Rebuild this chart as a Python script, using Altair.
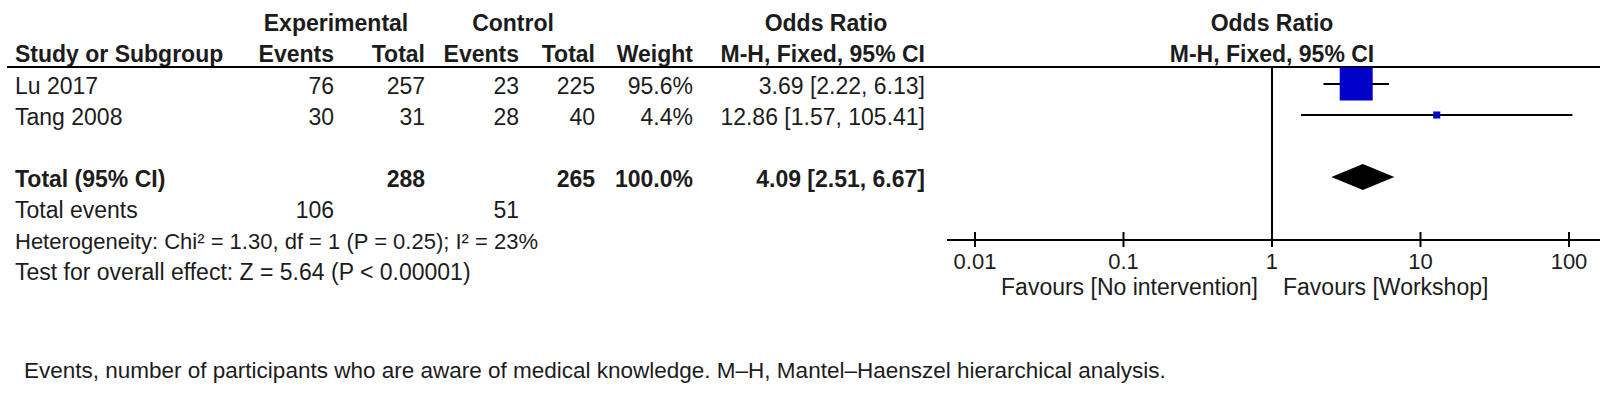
import altair as alt
import pandas as pd

# ---------------- data ----------------
studies = ["Lu 2017", "Tang 2008"]
exp_events = [76, 30]
exp_total = [257, 31]
ctrl_events = [23, 28]
ctrl_total = [225, 40]
weights = [95.6, 4.4]
odds_ratio = [3.69, 12.86]
ci_low = [2.22, 1.57]
ci_high = [6.13, 105.41]

total_label = "Total (95% CI)"
total_exp = 288
total_ctrl = 265
total_weight = 100.0
total_or = 4.09
total_lo = 2.51
total_hi = 6.67
total_events_label = "Total events"
total_exp_events = 106
total_ctrl_events = 51
heterogeneity = "Heterogeneity: Chi\u00b2 = 1.30, df = 1 (P = 0.25); I\u00b2 = 23%"
overall = "Test for overall effect: Z = 5.64 (P < 0.00001)"

group_headers = ["Experimental", "Control", "Odds Ratio"]
column_headers = ["Study or Subgroup", "Events", "Total", "Events", "Total", "Weight", "M-H, Fixed, 95% CI"]
plot_headers = ["Odds Ratio", "M-H, Fixed, 95% CI"]

tick_values = [0.01, 0.1, 1, 10, 100]
tick_labels = ["0.01", "0.1", "1", "10", "100"]
favours_left = "Favours [No intervention]"
favours_right = "Favours [Workshop]"
footnote = ("Events, number of participants who are aware of medical knowledge. "
            "M\u2013H, Mantel\u2013Haenszel hierarchical analysis.")

# ---------------- layout ----------------
W, H = 1600, 395
FONT = "Liberation Sans"
TXT = "#1c1c1c"
FS = 23          # regular text
FSB = 23         # bold text
ROW_TOP, ROW_PX = 53, 31          # pixel of row 0 and row pitch
yscale = alt.Scale(domain=[(0 - ROW_TOP) / ROW_PX, (H - ROW_TOP) / ROW_PX], range=[0, H])


def r(px):
    """pixel height -> row units of the y scale"""
    return (px - ROW_TOP) / ROW_PX


TDY = 3                                  # text sits slightly below the mark centre
R_HEAD1, R_HEAD2, R_LINE = r(24), r(55), r(67)
R_TOTAL, R_TE, R_HET, R_TEST = 4, 5, 6, 7
R_AXIS, R_TICKLAB, R_FAV, R_FOOT = r(240), r(262), r(288), r(371)

AX_LO, AX_HI = 0.00648, 161.7     # extent of the drawn OR axis
xscale = alt.Scale(type="log", domain=[AX_LO, AX_HI], range=[947, 1600])

COL = dict(study=15, ee=334, et=425, ce=519, ct=595, w=693, orci=925)
GROUP_X = [336, 513, 826]


def Y(field="row"):
    return alt.Y(f"{field}:Q", scale=yscale, axis=None)


def text_col(df, field, x_px, align="right", bold=False, size=None, dy=TDY):
    size = size or (FSB if bold else FS)
    return alt.Chart(df).mark_text(
        align=align, baseline="middle", font=FONT, fontSize=size, dy=dy,
        fontWeight="bold" if bold else "normal", color=TXT
    ).encode(x=alt.value(x_px), y=Y(), text=f"{field}:N")


def one_text(txt, x_px, row, align="left", bold=False, size=None, dy=TDY):
    df = pd.DataFrame({"t": [txt], "row": [row]})
    return text_col(df, "t", x_px, align, bold, size, dy)


# ---------------- tables ----------------
study_df = pd.DataFrame({
    "row": [1 + i for i in range(len(studies))],
    "study": studies,
    "ee": [str(v) for v in exp_events],
    "et": [str(v) for v in exp_total],
    "ce": [str(v) for v in ctrl_events],
    "ct": [str(v) for v in ctrl_total],
    "w": [f"{v:.1f}%" for v in weights],
    "orci": [f"{o:.2f} [{l:.2f}, {h:.2f}]" for o, l, h in zip(odds_ratio, ci_low, ci_high)],
    "wt": weights, "or": odds_ratio, "lo": ci_low, "hi": ci_high,
})
total_df = pd.DataFrame({
    "row": [R_TOTAL], "study": [total_label], "et": [str(total_exp)], "ct": [str(total_ctrl)],
    "w": [f"{total_weight:.1f}%"], "orci": [f"{total_or:.2f} [{total_lo:.2f}, {total_hi:.2f}]"],
})
te_df = pd.DataFrame({"row": [R_TE], "study": [total_events_label],
                      "ee": [str(total_exp_events)], "ce": [str(total_ctrl_events)]})

layers = []
# headers
for txt, x in zip(group_headers, GROUP_X):
    layers.append(one_text(txt, x, R_HEAD1, align="center", bold=True, dy=0))
hx = [COL["study"], COL["ee"], COL["et"], COL["ce"], COL["ct"], COL["w"], COL["orci"]]
for i, (txt, x) in enumerate(zip(column_headers, hx)):
    layers.append(one_text(txt, x, R_HEAD2, align="left" if i == 0 else "right", bold=True, dy=0))

# study rows
layers.append(text_col(study_df, "study", COL["study"], align="left"))
for f in ["ee", "et", "ce", "ct", "w", "orci"]:
    layers.append(text_col(study_df, f, COL[f]))
# total row
layers.append(text_col(total_df, "study", COL["study"], align="left", bold=True))
for f in ["et", "ct", "w", "orci"]:
    layers.append(text_col(total_df, f, COL[f], bold=True))
# total events
layers.append(text_col(te_df, "study", COL["study"], align="left"))
layers.append(text_col(te_df, "ee", COL["ee"]))
layers.append(text_col(te_df, "ce", COL["ce"]))
layers.append(one_text(heterogeneity, COL["study"], R_HET, size=22))
layers.append(one_text(overall, COL["study"], R_TEST, size=23))

# header rule
layers.append(alt.Chart(pd.DataFrame({"row": [R_LINE]})).mark_rule(color="black", strokeWidth=2)
              .encode(x=alt.value(7), x2=alt.value(W), y=Y()))

# ---------------- forest plot ----------------
ph = pd.DataFrame({"t": plot_headers, "row": [R_HEAD1, R_HEAD2], "x": [1, 1]})
layers.append(alt.Chart(ph).mark_text(align="center", baseline="middle", font=FONT, fontSize=FSB,
                                      fontWeight="bold", color=TXT)
              .encode(x=alt.X("x:Q", scale=xscale, axis=None), y=Y(), text="t:N"))

# line of no effect
layers.append(alt.Chart(pd.DataFrame({"x": [1], "row": [R_LINE], "row2": [R_AXIS]}))
              .mark_rule(color="black", strokeWidth=2)
              .encode(x=alt.X("x:Q", scale=xscale, axis=None), y=Y(), y2="row2:Q"))

# CI whiskers
layers.append(alt.Chart(study_df).mark_rule(color="black", strokeWidth=2)
              .encode(x=alt.X("lo:Q", scale=xscale, axis=None), x2="hi:Q", y=Y()))
# weight boxes (area proportional to weight)
layers.append(alt.Chart(study_df).mark_square(filled=True, opacity=1, color="#0000c8")
              .encode(x=alt.X("or:Q", scale=xscale, axis=None), y=Y(),
                      size=alt.Size("wt:Q", scale=alt.Scale(domain=[0, weights[0]], range=[0, 1089]),
                                    legend=None)))
# pooled diamond
hh = 13 / ROW_PX
dia = pd.DataFrame({"x": [total_lo, total_or, total_hi],
                    "y": [R_TOTAL, R_TOTAL - hh, R_TOTAL],
                    "y2": [R_TOTAL, R_TOTAL + hh, R_TOTAL]})
layers.append(alt.Chart(dia).mark_area(color="black", orient="vertical", interpolate="linear", opacity=1)
              .encode(x=alt.X("x:Q", scale=xscale, axis=None), y=Y("y"), y2="y2:Q"))

# axis line, ticks and labels
layers.append(alt.Chart(pd.DataFrame({"x": [AX_LO], "x2": [AX_HI], "row": [R_AXIS]}))
              .mark_rule(color="black", strokeWidth=2)
              .encode(x=alt.X("x:Q", scale=xscale, axis=None), x2="x2:Q", y=Y()))
ticks = pd.DataFrame({"x": tick_values, "lab": tick_labels,
                      "row": [R_AXIS - 8 / ROW_PX] * len(tick_values),
                      "row2": [R_AXIS + 7 / ROW_PX] * len(tick_values),
                      "rl": [R_TICKLAB] * len(tick_values)})
layers.append(alt.Chart(ticks).mark_rule(color="black", strokeWidth=2)
              .encode(x=alt.X("x:Q", scale=xscale, axis=None), y=Y(), y2="row2:Q"))
layers.append(alt.Chart(ticks).mark_text(align="center", baseline="middle", font=FONT, fontSize=22, color=TXT)
              .encode(x=alt.X("x:Q", scale=xscale, axis=None), y=Y("rl"), text="lab:N"))
fav = pd.DataFrame({"x": [1, 1], "t": [favours_left, favours_right], "row": [R_FAV, R_FAV]})
layers.append(alt.Chart(fav.iloc[[0]]).mark_text(align="right", baseline="middle", dx=-14, font=FONT,
                                                 fontSize=FS, color=TXT)
              .encode(x=alt.X("x:Q", scale=xscale, axis=None), y=Y(), text="t:N"))
layers.append(alt.Chart(fav.iloc[[1]]).mark_text(align="left", baseline="middle", dx=11, font=FONT,
                                                 fontSize=FS, color=TXT)
              .encode(x=alt.X("x:Q", scale=xscale, axis=None), y=Y(), text="t:N"))

# footnote
layers.append(one_text(footnote, 24, R_FOOT, size=22.5, dy=0))

chart = alt.layer(*layers).properties(
    width=W, height=H, autosize=alt.AutoSizeParams(type="none"), padding=0, background="white"
).configure_view(stroke=None)

chart.save("out.html", embed_options={"renderer": "svg", "actions": False})
